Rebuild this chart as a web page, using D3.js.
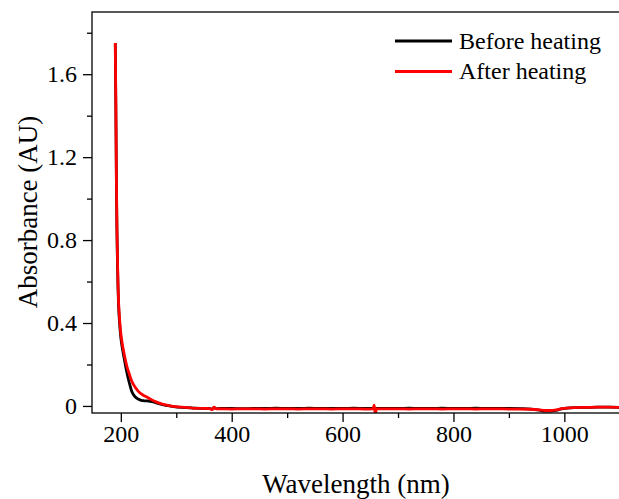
<!DOCTYPE html>
<html>
<head>
<meta charset="utf-8">
<script src="https://cdn.jsdelivr.net/npm/d3@7"></script>
<style>
  html, body { margin: 0; padding: 0; background: #fff; overflow: hidden; }
  svg text { font-family: "Liberation Serif", "Times New Roman", serif; fill: #000; }
</style>
</head>
<body>
<div id="chart"></div>
<script>
// UV-Vis absorbance, before / after heating

// Data
const wavelength = [190, 191, 192, 193, 194, 195, 196, 198, 200, 202, 205, 208, 211, 214, 217, 220,
  224, 228, 232, 237, 242, 247, 253, 260, 267, 275, 285, 295, 310, 330, 350, 360, 365, 368, 372,
  380, 400, 420, 440, 460, 480, 500, 520, 540, 560, 580, 600, 620, 640, 655, 657, 659, 661, 680,
  700, 720, 740, 760, 780, 800, 820, 840, 860, 880, 900, 920, 940, 955, 965, 975, 985, 995, 1005,
  1020, 1040, 1060, 1080, 1100];

const beforeHeating = [1.75, 1.45, 1.08, 0.84, 0.68, 0.56, 0.48, 0.39, 0.33, 0.29, 0.245, 0.20, 0.16, 0.125, 0.095, 0.068,
  0.050, 0.039, 0.032, 0.027, 0.025, 0.024, 0.022, 0.018, 0.012, 0.006, 0.001, -0.003, -0.007, -0.010, -0.012, -0.012, -0.015, -0.008, -0.013,
  -0.012, -0.012, -0.013, -0.012, -0.012, -0.011, -0.012, -0.012, -0.011, -0.012, -0.012, -0.012, -0.011, -0.012, -0.012, -0.010, -0.014, -0.012, -0.012,
  -0.012, -0.011, -0.012, -0.012, -0.011, -0.012, -0.012, -0.011, -0.012, -0.012, -0.012, -0.013, -0.015, -0.020, -0.025, -0.025, -0.021, -0.014, -0.010,
  -0.008, -0.007, -0.006, -0.006, -0.007];

const afterHeating = [1.75, 1.45, 1.10, 0.86, 0.70, 0.58, 0.50, 0.41, 0.35, 0.31, 0.265, 0.225, 0.19, 0.165, 0.14, 0.118,
  0.098, 0.082, 0.069, 0.058, 0.049, 0.043, 0.034, 0.024, 0.016, 0.009, 0.003, -0.002, -0.006, -0.010, -0.012, -0.013, -0.018, -0.006, -0.014,
  -0.014, -0.015, -0.014, -0.014, -0.015, -0.014, -0.014, -0.015, -0.014, -0.014, -0.015, -0.014, -0.014, -0.015, -0.014, 0.004, -0.040, -0.014, -0.014,
  -0.014, -0.015, -0.014, -0.014, -0.015, -0.014, -0.014, -0.015, -0.014, -0.014, -0.015, -0.015, -0.016, -0.019, -0.022, -0.022, -0.019, -0.013, -0.010,
  -0.008, -0.007, -0.006, -0.006, -0.007];

const series = [
  { name: 'Before heating', values: beforeHeating, color: '#000000' },
  { name: 'After heating', values: afterHeating, color: '#ff0000' }
];

const xMajor = [200, 400, 600, 800, 1000];
const xMinor = [300, 500, 700, 900];
const yMajor = [0, 0.4, 0.8, 1.2, 1.6];
const yMinor = [0.2, 0.6, 1.0, 1.4, 1.8];

const FONT = '"Liberation Serif", "Times New Roman", serif';

// Dimensions
const W = 619, H = 499;
const plot = { left: 92, top: 12, right: 622, bottom: 413 };

const svg = d3.select('#chart')
  .append('svg')
  .attr('width', W)
  .attr('height', H);

// Scales
const xScale = d3.scaleLinear()
  .domain([148, 1104])
  .range([plot.left, plot.right]);

const yScale = d3.scaleLinear()
  .domain([-0.034, 1.9])
  .range([plot.bottom, plot.top]);

// Clip for the lines
svg.append('clipPath')
  .attr('id', 'clip')
  .append('rect')
  .attr('x', plot.left)
  .attr('y', plot.top)
  .attr('width', plot.right - plot.left)
  .attr('height', plot.bottom - plot.top);

// Curves
const line = d3.line()
  .x((d, i) => xScale(wavelength[i]))
  .y(d => yScale(d))
  .curve(d3.curveMonotoneX);

svg.append('g')
  .attr('clip-path', 'url(#clip)')
  .selectAll('path')
  .data(series)
  .enter()
  .append('path')
  .attr('fill', 'none')
  .attr('stroke', d => d.color)
  .attr('stroke-width', 2.8)
  .attr('stroke-linejoin', 'round')
  .attr('d', d => line(d.values));

// Frame
svg.append('rect')
  .attr('x', plot.left)
  .attr('y', plot.top)
  .attr('width', plot.right - plot.left)
  .attr('height', plot.bottom - plot.top)
  .attr('fill', 'none')
  .attr('stroke', '#000')
  .attr('stroke-width', 1.3);

// Axes
const xAxis = d3.axisBottom(xScale)
  .tickValues(xMajor)
  .tickSize(9)
  .tickPadding(3)
  .tickFormat(d3.format('d'));

const xAxisMinor = d3.axisBottom(xScale)
  .tickValues(xMinor)
  .tickSize(5)
  .tickFormat('');

const yAxis = d3.axisLeft(yScale)
  .tickValues(yMajor)
  .tickSize(9)
  .tickPadding(6)
  .tickFormat(d => d === 0 ? '0' : d3.format('.1f')(d));

const yAxisMinor = d3.axisLeft(yScale)
  .tickValues(yMinor)
  .tickSize(5)
  .tickFormat('');

function styleAxis(g) {
  g.attr('font-family', FONT).attr('font-size', 24);
  g.select('.domain').remove();
  g.selectAll('.tick line').attr('stroke', '#000').attr('stroke-width', 1.3);
  g.selectAll('.tick text')
    .style('font-family', FONT)
    .style('font-size', '24px')
    .attr('fill', '#000');
}

svg.append('g')
  .attr('transform', `translate(0, ${plot.bottom})`)
  .call(xAxis)
  .call(styleAxis);

svg.append('g')
  .attr('transform', `translate(0, ${plot.bottom})`)
  .call(xAxisMinor)
  .call(styleAxis);

svg.append('g')
  .attr('transform', `translate(${plot.left}, 0)`)
  .call(yAxis)
  .call(styleAxis);

svg.append('g')
  .attr('transform', `translate(${plot.left}, 0)`)
  .call(yAxisMinor)
  .call(styleAxis);

// Axis labels
svg.append('text')
  .attr('x', 356)
  .attr('y', 493)
  .attr('text-anchor', 'middle')
  .style('font-size', '27px')
  .text('Wavelength (nm)');

svg.append('text')
  .attr('transform', 'translate(37, 212) rotate(-90)')
  .attr('text-anchor', 'middle')
  .style('font-size', '27px')
  .text('Absorbance (AU)');

// Legend
const legend = svg.append('g')
  .attr('transform', 'translate(395, 41)');

const item = legend.selectAll('g')
  .data(series)
  .enter()
  .append('g')
  .attr('transform', (d, i) => `translate(0, ${i * 30.5})`);

item.append('line')
  .attr('x1', 0)
  .attr('x2', 57)
  .attr('stroke', d => d.color)
  .attr('stroke-width', 3);

item.append('text')
  .attr('x', 64)
  .attr('y', 7.5)
  .style('font-size', '24px')
  .text(d => d.name);
</script>
</body>
</html>
